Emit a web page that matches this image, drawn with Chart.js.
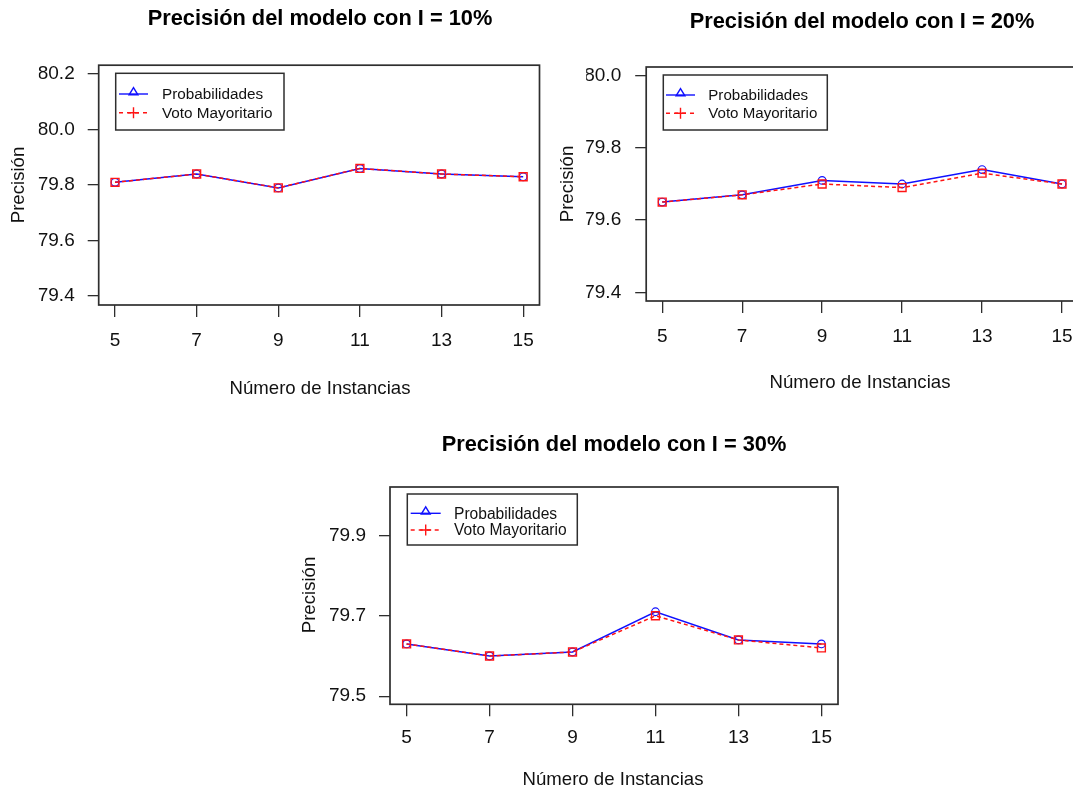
<!DOCTYPE html>
<html>
<head>
<meta charset="utf-8">
<script src="https://cdn.jsdelivr.net/npm/chart.js@4.4.1/dist/chart.umd.min.js"></script>
<style>
  html, body { margin: 0; padding: 0; background: #ffffff; overflow: hidden; }
  #page { position: relative; width: 1073px; height: 791px; overflow: hidden; }
  canvas { position: absolute; }
</style>
</head>
<body>
<div id="page">
  <canvas id="c10"></canvas>
  <canvas id="c20"></canvas>
  <canvas id="c30"></canvas>
</div>
<script>
// ---- data -------------------------------------------------------------
const instancias = [5, 7, 9, 11, 13, 15];

const probabilidades10   = [79.81, 79.84, 79.79, 79.86, 79.84, 79.83];
const votoMayoritario10  = [79.81, 79.84, 79.79, 79.86, 79.84, 79.83];

const probabilidades20   = [79.65, 79.67, 79.71, 79.70, 79.74, 79.70];
const votoMayoritario20  = [79.65, 79.67, 79.70, 79.69, 79.73, 79.70];

const probabilidades30   = [79.63, 79.60, 79.61, 79.71, 79.64, 79.63];
const votoMayoritario30  = [79.63, 79.60, 79.61, 79.70, 79.64, 79.62];

const yLimits10 = [79.4, 80.2];
const yLimits20 = [79.4, 80.0];
const yLimits30 = [79.5, 80.0];
const xLimits   = [5, 15];

const yTicks10 = [79.4, 79.6, 79.8, 80.0, 80.2];
const yTicks20 = [79.4, 79.6, 79.8, 80.0];
const yTicks30 = [79.5, 79.7, 79.9];
const xTicks   = [5, 7, 9, 11, 13, 15];

const seriesNames = ['Probabilidades', 'Voto Mayoritario'];
const titles = ['Precisión del modelo con I = 10%', 'Precisión del modelo con I = 20%', 'Precisión del modelo con I = 30%'];
const xAxisTitle = 'Número de Instancias';
const yAxisTitle = 'Precisión';

// ---- styling ----------------------------------------------------------
const FONT = '"Liberation Sans", Arial, Helvetica, sans-serif';
const BLUE = '#1010ff';
const RED  = '#ff1414';
const INK  = '#111111';
const FRAME = '#2e2e2e';

// extend limits by 4% on each side, as base R plots do
function extend(lim) {
  const d = (lim[1] - lim[0]) * 0.04;
  return [lim[0] - d, lim[1] + d];
}

// panel geometry in page pixels (canvases keep spare room on the right
// so the last tick label never squeezes the plotting area)
const panels = [
  {
    id: 'c10', canvas: { x: 0, y: 0, w: 560, h: 410 },
    area: { l: 98.7, t: 65.2, r: 539.5, b: 305 },
    yTickPad: 13, xTickPad: 12,
    title: { x: 320, y: 19 }, xTitle: { x: 320, y: 388.5 }, yTitle: { x: 18.5, y: 185 },
    legend: { x: 115.7, y: 73.3, w: 168.3, h: 56.7, rows: [94, 112.7], line: [119, 148], textX: 162, size: 15.3 },
    prob: probabilidades10, voto: votoMayoritario10, ylim: yLimits10, yTicks: yTicks10, title_: titles[0]
  },
  {
    id: 'c20', canvas: { x: 545, y: 0, w: 560, h: 410 },
    area: { l: 646.2, t: 67, r: 1078, b: 301 },
    yTickPad: 14, xTickPad: 12,
    title: { x: 862, y: 22 }, xTitle: { x: 860, y: 382.5 }, yTitle: { x: 568, y: 184 },
    legend: { x: 663.3, y: 75, w: 164, h: 55, rows: [95, 113.3], line: [666, 695], textX: 708.3, size: 15.1 },
    prob: probabilidades20, voto: votoMayoritario20, ylim: yLimits20, yTicks: yTicks20, title_: titles[1]
  },
  {
    id: 'c30', canvas: { x: 280, y: 420, w: 600, h: 371 },
    area: { l: 390, t: 487, r: 838, b: 704.3 },
    yTickPad: 13, xTickPad: 10,
    title: { x: 614, y: 445 }, xTitle: { x: 613, y: 779.5 }, yTitle: { x: 310, y: 595 },
    legend: { x: 407.3, y: 494, w: 170, h: 51, rows: [513.3, 530], line: [410.7, 440.7], textX: 454, size: 15.6 },
    prob: probabilidades30, voto: votoMayoritario30, ylim: yLimits30, yTicks: yTicks30, title_: titles[2]
  }
];

// frame, titles and the boxed legend drawn on top of each panel
const decorPlugin = {
  id: 'rDecor',
  afterDraw(chart, args, opts) {
    const p = opts.panel;
    const ox = p.canvas.x, oy = p.canvas.y;
    const ctx = chart.ctx;
    const a = chart.chartArea;
    ctx.save();

    // plot frame
    ctx.strokeStyle = FRAME;
    ctx.lineWidth = 1.7;
    ctx.strokeRect(a.left, a.top, a.right - a.left, a.bottom - a.top);

    // main title
    ctx.fillStyle = '#000';
    ctx.textAlign = 'center';
    ctx.textBaseline = 'middle';
    ctx.font = 'bold 21.8px ' + FONT;
    ctx.fillText(p.title_, p.title.x - ox, p.title.y - oy);

    // axis titles
    ctx.fillStyle = INK;
    ctx.font = '18.6px ' + FONT;
    ctx.fillText(xAxisTitle, p.xTitle.x - ox, p.xTitle.y - oy);
    ctx.save();
    ctx.translate(p.yTitle.x - ox, p.yTitle.y - oy);
    ctx.rotate(-Math.PI / 2);
    ctx.fillText(yAxisTitle, 0, 0);
    ctx.restore();

    // legend box
    const L = p.legend;
    const lx = L.x - ox, ly = L.y - oy;
    ctx.fillStyle = '#fff';
    ctx.fillRect(lx, ly, L.w, L.h);
    ctx.strokeStyle = FRAME;
    ctx.lineWidth = 1.5;
    ctx.strokeRect(lx, ly, L.w, L.h);

    const x0 = L.line[0] - ox, x1 = L.line[1] - ox, cx = (x0 + x1) / 2;
    // row 1: solid blue with triangle
    let ry = L.rows[0] - oy;
    ctx.strokeStyle = BLUE;
    ctx.lineWidth = 1.4;
    ctx.setLineDash([]);
    ctx.beginPath(); ctx.moveTo(x0, ry); ctx.lineTo(x1, ry); ctx.stroke();
    ctx.beginPath();
    ctx.moveTo(cx, ry - 6.4);
    ctx.lineTo(cx - 4.4, ry + 0.8);
    ctx.lineTo(cx + 4.4, ry + 0.8);
    ctx.closePath();
    ctx.stroke();
    // row 2: dashed red with plus
    ry = L.rows[1] - oy;
    ctx.strokeStyle = RED;
    ctx.setLineDash([4, 4]);
    ctx.beginPath(); ctx.moveTo(x0, ry); ctx.lineTo(x1, ry); ctx.stroke();
    ctx.setLineDash([]);
    ctx.beginPath();
    ctx.moveTo(cx - 5.5, ry); ctx.lineTo(cx + 5.5, ry);
    ctx.moveTo(cx, ry - 5.5); ctx.lineTo(cx, ry + 5.5);
    ctx.stroke();

    // legend labels
    ctx.fillStyle = INK;
    ctx.textAlign = 'left';
    ctx.font = L.size + 'px ' + FONT;
    ctx.fillText(seriesNames[0], L.textX - ox, L.rows[0] - oy + 1);
    ctx.fillText(seriesNames[1], L.textX - ox, L.rows[1] - oy + 1);

    ctx.restore();
  }
};

const Y_AXIS_W = 60, X_AXIS_H = 60;

function makeChart(p) {
  const cv = document.getElementById(p.id);
  cv.width = p.canvas.w; cv.height = p.canvas.h;
  cv.style.left = p.canvas.x + 'px'; cv.style.top = p.canvas.y + 'px';
  cv.style.width = p.canvas.w + 'px'; cv.style.height = p.canvas.h + 'px';

  const yr = extend(p.ylim), xr = extend(xLimits);
  const pad = {
    left: (p.area.l - p.canvas.x) - Y_AXIS_W,
    top: p.area.t - p.canvas.y,
    right: (p.canvas.x + p.canvas.w) - p.area.r,
    bottom: (p.canvas.y + p.canvas.h) - p.area.b - X_AXIS_H
  };

  return new Chart(cv, {
    type: 'line',
    data: {
      datasets: [
        {
          label: seriesNames[1],
          data: instancias.map((x, i) => ({ x, y: p.voto[i] })),
          borderColor: RED, borderWidth: 1.5, borderDash: [4, 3],
          pointStyle: 'rect', pointRadius: 5.6, pointBorderWidth: 1.4,
          pointBorderColor: RED, pointBackgroundColor: 'rgba(0,0,0,0)',
          tension: 0, fill: false, order: 0
        },
        {
          label: seriesNames[0],
          data: instancias.map((x, i) => ({ x, y: p.prob[i] })),
          borderColor: BLUE, borderWidth: 1.5,
          pointStyle: 'circle', pointRadius: 3.8, pointBorderWidth: 1.2,
          pointBorderColor: BLUE, pointBackgroundColor: 'rgba(0,0,0,0)',
          tension: 0, fill: false, order: 1
        }
      ]
    },
    options: {
      responsive: false,
      animation: false,
      devicePixelRatio: 1,
      events: [],
      layout: { padding: pad },
      plugins: {
        legend: { display: false },
        tooltip: { enabled: false },
        title: { display: false },
        rDecor: { panel: p }
      },
      scales: {
        x: {
          type: 'linear', min: xr[0], max: xr[1],
          afterBuildTicks: s => { s.ticks = xTicks.map(v => ({ value: v })); },
          afterFit: s => { s.height = X_AXIS_H; s.paddingLeft = 0; s.paddingRight = 0; },
          border: { display: false },
          grid: { drawOnChartArea: false, drawTicks: true, tickLength: 12, color: FRAME, lineWidth: 1.3 },
          ticks: {
            padding: p.xTickPad, color: INK, maxRotation: 0, autoSkip: false,
            font: { family: FONT, size: 19 },
            callback: v => String(v)
          }
        },
        y: {
          type: 'linear', min: yr[0], max: yr[1],
          afterBuildTicks: s => { s.ticks = p.yTicks.map(v => ({ value: v })); },
          afterFit: s => { s.width = Y_AXIS_W; s.paddingTop = 0; s.paddingBottom = 0; },
          border: { display: false },
          grid: { drawOnChartArea: false, drawTicks: true, tickLength: 11, color: FRAME, lineWidth: 1.3 },
          ticks: {
            padding: p.yTickPad, color: INK, autoSkip: false,
            font: { family: FONT, size: 19 },
            callback: v => Number(v).toFixed(1)
          }
        }
      }
    },
    plugins: [decorPlugin]
  });
}

panels.forEach(makeChart);
</script>
</body>
</html>
